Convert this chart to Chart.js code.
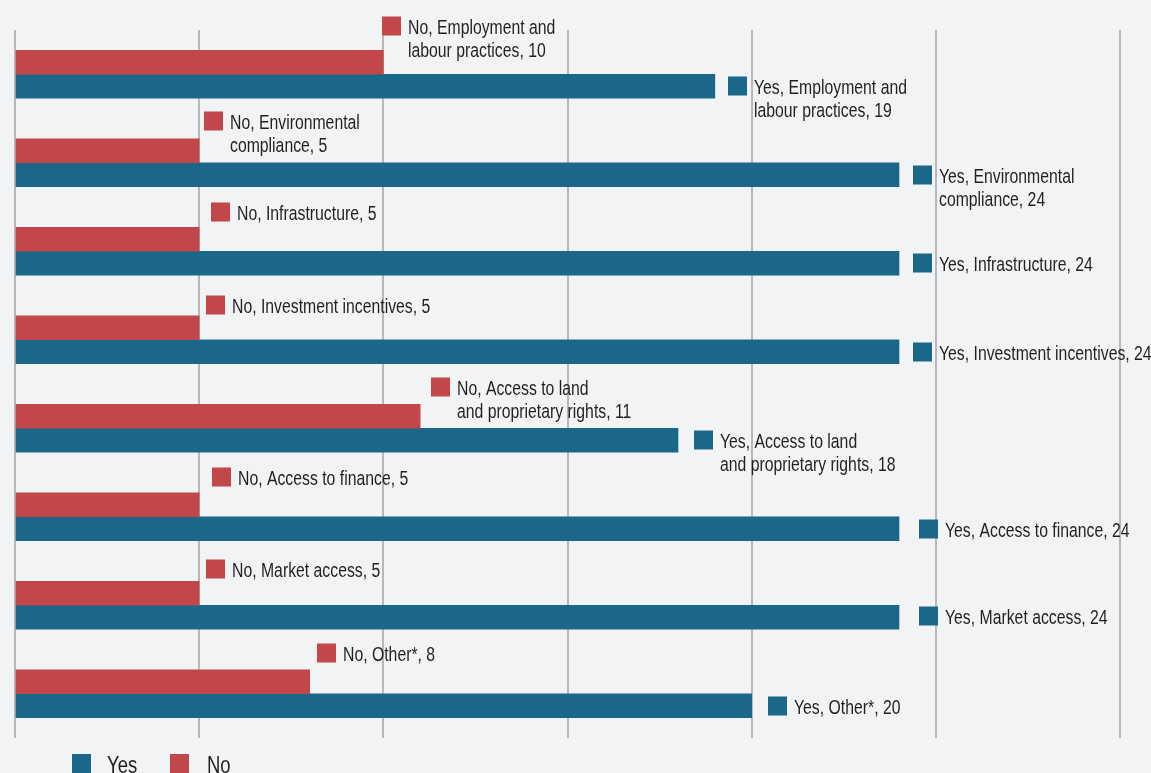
<!DOCTYPE html>
<html>
<head>
<meta charset="utf-8">
<script src="https://cdn.jsdelivr.net/npm/chart.js@4.4.0/dist/chart.umd.min.js"></script>
<style>
  html, body { margin: 0; padding: 0; background: #f2f3f5; overflow: hidden; }
  #wrap { width: 1151px; height: 773px; position: relative; }
</style>
</head>
<body>
<div id="wrap"><canvas id="chart" width="1151" height="773"></canvas></div>
<script>
// Categories (each entry is the label text split into lines)
const categories = [
  ['Employment and', 'labour practices'],
  ['Environmental', 'compliance'],
  ['Infrastructure'],
  ['Investment incentives'],
  ['Access to land', 'and proprietary rights'],
  ['Access to finance'],
  ['Market access'],
  ['Other*']
];
const yesValues = [19, 24, 24, 24, 18, 24, 24, 20];
const noValues  = [10, 5, 5, 5, 11, 5, 5, 8];
const xTicks = [0, 5, 10, 15, 20, 25, 30];

// Label placement tweaks (pixels from the end / centre of each bar)
const noLabelDx  = [-1, 5, 12, 7, 11, 13, 7, 7];
const noLabelDy  = [-36, -30, -27, -23, -29, -28, -24, -29];
const yesLabelDx = [13, 14, 14, 14, 16, 20, 20, 16];
const yesLabelDy = [0, 0, 0, 0, 0, 0, -1, 0];

const COLOR_YES = '#1b6789';
const COLOR_NO = '#c1474a';
const TEXT = '#231f20';
// Condensed lettering: a regular sans squeezed horizontally
const LABEL_FONT = '20.5px "Liberation Sans", Arial, sans-serif';
const LABEL_SQUEEZE = 0.77;
const LEGEND_FONT = '24px "Liberation Sans", Arial, sans-serif';
const LEGEND_SQUEEZE = 0.77;

function squeezedText(ctx, text, x, y, squeeze) {
  ctx.save();
  ctx.translate(x, y);
  ctx.scale(squeeze, 1);
  ctx.fillText(text, 0, 0);
  ctx.restore();
}

const valueLabels = {
  id: 'valueLabels',
  afterDatasetsDraw(chart) {
    const ctx = chart.ctx;
    ctx.save();
    ctx.font = LABEL_FONT;
    ctx.textBaseline = 'middle';
    ctx.textAlign = 'left';
    chart.data.datasets.forEach((ds, di) => {
      const meta = chart.getDatasetMeta(di);
      const isYes = ds.label === 'Yes';
      meta.data.forEach((bar, i) => {
        const dx = isYes ? yesLabelDx[i] : noLabelDx[i];
        const dy = isYes ? yesLabelDy[i] : noLabelDy[i];
        const mx = Math.round(bar.x + dx);
        const my = Math.round(bar.y + dy);
        ctx.fillStyle = ds.backgroundColor;
        ctx.fillRect(mx, my - 9.5, 19, 19);
        ctx.fillStyle = TEXT;
        const lines = categories[i].slice();
        lines[lines.length - 1] += ', ' + ds.data[i];
        lines[0] = ds.label + ', ' + lines[0];
        lines.forEach((ln, k) => squeezedText(ctx, ln, mx + 26, my + 2 + k * 23, LABEL_SQUEEZE));
      });
    });
    ctx.restore();
  }
};

const bottomLegend = {
  id: 'bottomLegend',
  afterDraw(chart) {
    const ctx = chart.ctx;
    ctx.save();
    ctx.font = LEGEND_FONT;
    ctx.textBaseline = 'alphabetic';
    const items = [
      { text: 'Yes', color: COLOR_YES, x: 72, tx: 107 },
      { text: 'No', color: COLOR_NO, x: 170, tx: 207 }
    ];
    items.forEach(it => {
      ctx.fillStyle = it.color;
      ctx.fillRect(it.x, 754, 19, 20);
      ctx.fillStyle = TEXT;
      squeezedText(ctx, it.text, it.tx, 773, LEGEND_SQUEEZE);
    });
    ctx.restore();
  }
};

new Chart(document.getElementById('chart'), {
  type: 'bar',
  data: {
    labels: categories,
    datasets: [
      { label: 'No', data: noValues, backgroundColor: COLOR_NO, barThickness: 24 },
      { label: 'Yes', data: yesValues, backgroundColor: COLOR_YES, barThickness: 24 }
    ]
  },
  options: {
    indexAxis: 'y',
    responsive: false,
    animation: false,
    layout: { padding: { left: 15, right: 31, top: 30, bottom: 35 } },
    plugins: { legend: { display: false }, tooltip: { enabled: false } },
    scales: {
      x: {
        min: xTicks[0],
        max: xTicks[xTicks.length - 1],
        afterBuildTicks(scale) { scale.ticks = xTicks.map(v => ({ value: v })); },
        ticks: { display: false },
        border: { display: false },
        grid: { color: '#b8b8b8', lineWidth: 2, drawTicks: false }
      },
      y: { display: false }
    }
  },
  plugins: [valueLabels, bottomLegend]
});
</script>
</body>
</html>
